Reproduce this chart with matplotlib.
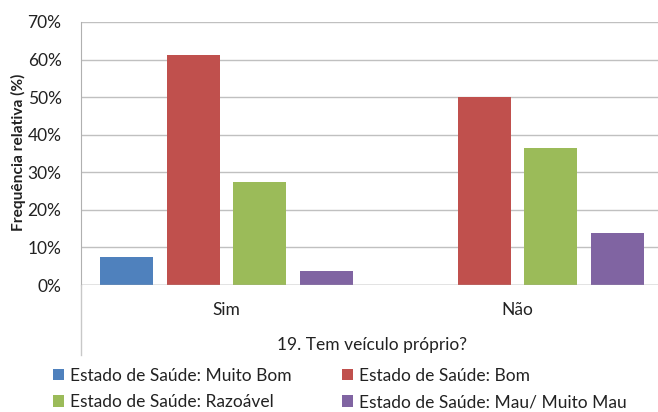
import numpy as np
import matplotlib.pyplot as plt
from matplotlib.lines import Line2D
from matplotlib.patches import Patch

plt.rcParams['font.family'] = ['Lato', 'DejaVu Sans']

categories = ["Sim", "Não"]
series = ["Estado de Saúde: Muito Bom", "Estado de Saúde: Bom",
          "Estado de Saúde: Razoável", "Estado de Saúde: Mau/ Muito Mau"]
muito_bom = [7.5, 0.0]
bom = [61.2, 50.0]
razoavel = [27.4, 36.5]
mau = [3.7, 13.8]
colors = ["#4F81BD", "#C0504D", "#9BBB59", "#8064A2"]

W, H = 658, 412
fig = plt.figure(figsize=(W / 100, H / 100), dpi=100)
# plot area: x 81..663 px (right side cropped), y 22..285 px
ax = fig.add_axes([81 / W, 1 - 285 / H, 582 / W, 263 / H])

x = np.arange(len(categories))
step = 0.2285
width = 0.182
for i, (vals, c) in enumerate(zip([muito_bom, bom, razoavel, mau], colors)):
    ax.bar(x + (i - 1.5) * step, vals, width, color=c, zorder=3)

fs = 12.5
ax.set_xlim(-0.5, 1.5)
ax.set_ylim(0, 70)
ax.set_yticks(np.arange(0, 71, 10))
ax.set_yticklabels([f"{v}%" for v in range(0, 71, 10)], fontsize=fs, color="#222222")
ax.tick_params(axis="y", length=0, pad=14)
ax.set_xticks([])
ax.grid(axis="y", color="#c0c0c0", lw=1, zorder=0)
for s in ["top", "right", "bottom"]:
    ax.spines[s].set_visible(False)
ax.spines["left"].set_color("#b0b0b0")
ax.axhline(0, color="#a8a8a8", lw=1, zorder=4)

# category labels and axis title
for xi, lab in zip(x, categories):
    ax.text(xi, -25 / 263 * 70, lab, ha="center", va="center", fontsize=fs, color="#222222")
ax.text(0.5, -60 / 263, "19. Tem veículo próprio?", transform=ax.transAxes,
        ha="center", va="center", fontsize=fs, color="#222222")
# extended left divider below the axis
fig.add_artist(Line2D([81 / W, 81 / W], [1 - 285 / H, 1 - 355 / H], color="#c8c8c8", lw=1))

fig.text(18 / W, 1 - 152 / H, "Frequência relativa (%)", rotation=90, ha="center", va="center",
         fontsize=11.2, fontweight="bold", color="#222222")

order = [0, 2, 1, 3]  # row-major legend like the original
handles = [Patch(facecolor=colors[i]) for i in order]
labels = [series[i] for i in order]
fig.legend(handles, labels, loc="center left", bbox_to_anchor=(44 / W, 1 - 389 / H), ncol=2,
           frameon=False, fontsize=fs, handlelength=0.65, handleheight=0.65, handletextpad=0.35,
           columnspacing=2.9, labelspacing=0.62, borderpad=0, labelcolor="#222222")

fig.savefig("out.png", dpi=100)
